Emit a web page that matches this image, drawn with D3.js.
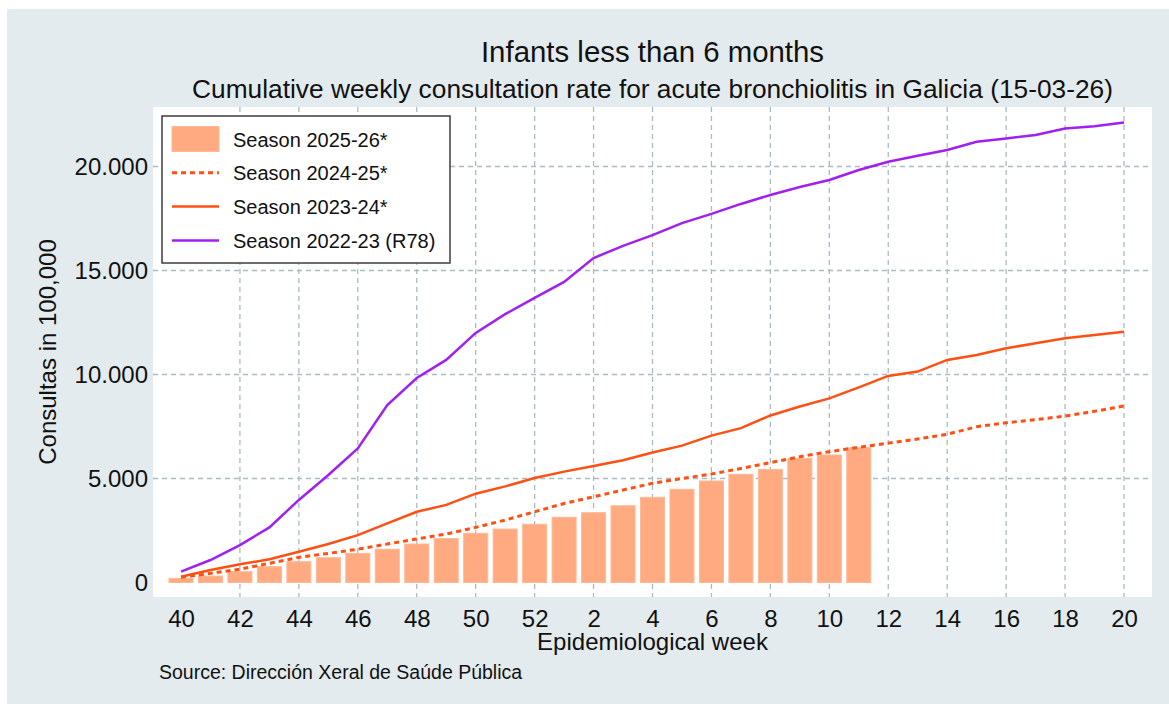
<!DOCTYPE html>
<html>
<head>
<meta charset="utf-8">
<script src="https://cdn.jsdelivr.net/npm/d3@7"></script>
<style>
  html, body { margin: 0; padding: 0; background: #fff; }
  text { font-family: "Liberation Sans", Arial, sans-serif; fill: #111; }
</style>
</head>
<body>
<div id="chart"></div>
<script>
// epidemiological weeks, season runs 40 -> 20
const weeks = ["40","41","42","43","44","45","46","47","48","49","50","51","52",
  "1","2","3","4","5","6","7","8","9","10","11","12","13","14","15","16","17","18","19","20"];
const xTickWeeks = ["40","42","44","46","48","50","52","2","4","6","8","10","12","14","16","18","20"];
const yTicks = [0, 5000, 10000, 15000, 20000];

// cumulative rates per 100,000
const season2526 = [200, 310, 520, 760, 1000, 1190, 1400, 1600, 1850, 2110, 2365, 2570, 2800,
  3135, 3355, 3690, 4095, 4480, 4880, 5200, 5440, 5970, 6130, 6480];
const season2425 = [250, 440, 640, 920, 1210, 1400, 1600, 1850, 2090, 2330, 2650, 3000, 3400,
  3800, 4120, 4450, 4770, 5000, 5215, 5480, 5760, 6050, 6290, 6500, 6700, 6900, 7125, 7490,
  7680, 7830, 8000, 8230, 8485];
const season2324 = [280, 600, 875, 1115, 1480, 1850, 2280, 2845, 3400, 3730, 4270, 4620, 5020,
  5330, 5600, 5880, 6250, 6580, 7060, 7420, 8030, 8460, 8850, 9380, 9930, 10140, 10700, 10940,
  11260, 11500, 11740, 11900, 12060];
const season2223 = [520, 1080, 1800, 2650, 3970, 5170, 6450, 8530, 9830, 10700, 12000, 12900, 13680,
  14450, 15600, 16180, 16700, 17280, 17720, 18200, 18630, 19010, 19350, 19830, 20230, 20520, 20790,
  21190, 21350, 21510, 21830, 21940, 22120];

const W = 1169, H = 704;
const plot = { left: 153, right: 1152, top: 107, bottom: 597 };
const orange = "#ff5014", purple = "#a020f0", barFill = "#ffaa80";

const svg = d3.select("#chart").append("svg")
  .attr("width", W)
  .attr("height", H);

// grey outer panel + white plot region
svg.append("rect").attr("x", 7).attr("y", 9).attr("width", W - 7).attr("height", H - 9).attr("fill", "#e4ebee");
svg.append("rect")
  .attr("x", plot.left).attr("y", plot.top)
  .attr("width", plot.right - plot.left).attr("height", plot.bottom - plot.top)
  .attr("fill", "#fff");

const x = d3.scalePoint().domain(weeks).range([plot.left, plot.right]).padding(0.95);
const y = d3.scaleLinear().domain([-697, 22860]).range([plot.bottom, plot.top]);

// gridlines
const grid = svg.append("g").attr("stroke", "#a9bcc3").attr("stroke-width", 1.3).attr("stroke-dasharray", "5,4");
xTickWeeks.slice(1).forEach(w => {
  grid.append("line").attr("x1", x(w)).attr("x2", x(w)).attr("y1", plot.top).attr("y2", plot.bottom);
});
yTicks.slice(1).forEach(v => {
  grid.append("line").attr("x1", plot.left).attr("x2", plot.right).attr("y1", y(v)).attr("y2", y(v));
});

// bars for current season
const barW = 24;
svg.append("g").selectAll("rect")
  .data(season2526)
  .join("rect")
  .attr("x", (d, i) => x(weeks[i]) - barW / 2)
  .attr("y", d => y(d))
  .attr("width", barW)
  .attr("height", d => y(0) - y(d))
  .attr("fill", barFill)
  .attr("stroke", "#ffb896")
  .attr("stroke-width", 1);

const line = d3.line().x((d, i) => x(weeks[i])).y(d => y(d));

svg.append("path").datum(season2425).attr("d", line)
  .attr("fill", "none").attr("stroke", orange).attr("stroke-width", 3).attr("stroke-dasharray", "5,4");
svg.append("path").datum(season2324).attr("d", line)
  .attr("fill", "none").attr("stroke", orange).attr("stroke-width", 2.5);
svg.append("path").datum(season2223).attr("d", line)
  .attr("fill", "none").attr("stroke", purple).attr("stroke-width", 2.5);

// axes
const fmt = d3.formatLocale({ decimal: ",", thousands: ".", grouping: [3], currency: ["", ""] }).format(",d");

const yAxis = svg.append("g")
  .attr("transform", `translate(${plot.left},0)`)
  .call(d3.axisLeft(y).tickValues(yTicks).tickFormat(fmt).tickSize(0).tickPadding(5));
yAxis.select(".domain").remove();
yAxis.selectAll("text").attr("font-size", "24px").style("fill", "#111");

const xAxis = svg.append("g")
  .attr("transform", `translate(0,${plot.bottom})`)
  .call(d3.axisBottom(x).tickValues(xTickWeeks).tickSize(0).tickPadding(13));
xAxis.select(".domain").remove();
xAxis.selectAll("text").attr("font-size", "24px").style("fill", "#111");

// titles
const cx = (plot.left + plot.right) / 2;
svg.append("text").attr("x", cx).attr("y", 62).attr("text-anchor", "middle")
  .attr("font-size", "29.4px").text("Infants less than 6 months");
svg.append("text").attr("x", cx).attr("y", 98).attr("text-anchor", "middle")
  .attr("font-size", "26.3px")
  .text("Cumulative weekly consultation rate for acute bronchiolitis in Galicia (15-03-26)");
svg.append("text").attr("x", cx).attr("y", 650).attr("text-anchor", "middle")
  .attr("font-size", "24px").text("Epidemiological week");
svg.append("text")
  .attr("transform", `translate(56,${(plot.top + plot.bottom) / 2}) rotate(-90)`)
  .attr("text-anchor", "middle")
  .attr("font-size", "24px").text("Consultas in 100,000");
svg.append("text").attr("x", 159).attr("y", 679)
  .attr("font-size", "19.5px").text("Source: Dirección Xeral de Saúde Pública");

// legend
const legendItems = [
  { label: "Season 2025-26*", type: "bar" },
  { label: "Season 2024-25*", type: "dash", color: orange },
  { label: "Season 2023-24*", type: "line", color: orange },
  { label: "Season 2022-23 (R78)", type: "line", color: purple }
];
const lg = svg.append("g");
lg.append("rect").attr("x", 162).attr("y", 116).attr("width", 288).attr("height", 147)
  .attr("fill", "#fff").attr("stroke", "#3c3c3c").attr("stroke-width", 1.5);
legendItems.forEach((d, i) => {
  const cy = 139 + i * 33.8;
  if (d.type === "bar") {
    lg.append("rect").attr("x", 172).attr("y", cy - 12.5).attr("width", 47).attr("height", 25)
      .attr("fill", barFill).attr("stroke", "#ffb896");
  } else {
    lg.append("line").attr("x1", 172).attr("x2", 219).attr("y1", cy).attr("y2", cy)
      .attr("stroke", d.color).attr("stroke-width", d.type === "dash" ? 3 : 2.5)
      .attr("stroke-dasharray", d.type === "dash" ? "5,4" : null);
  }
  lg.append("text").attr("x", 233).attr("y", cy + 7.5).attr("font-size", "20px").text(d.label);
});
</script>
</body>
</html>
